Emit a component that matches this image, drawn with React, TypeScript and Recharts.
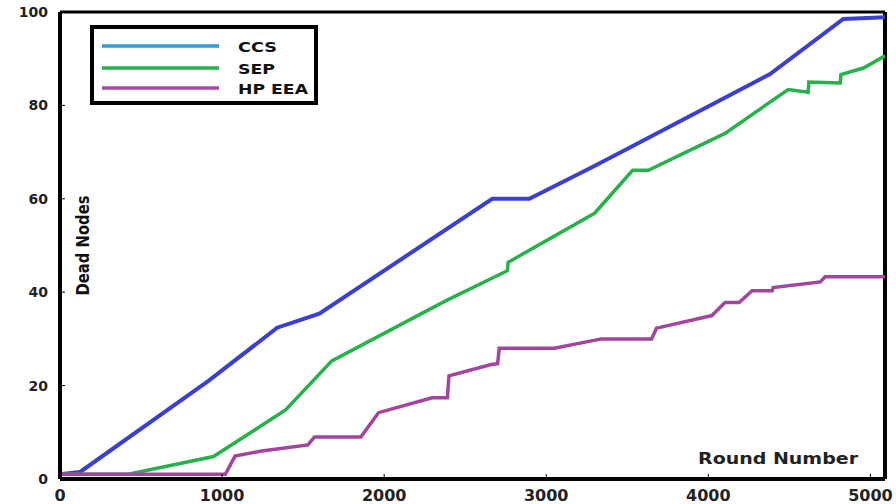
import { LineChart, Line, XAxis, YAxis, Legend, Label, ReferenceLine } from 'recharts';

const ccsRounds = [0, 124, 916, 1340, 1600, 2667, 2896, 3267, 3484, 4381, 4833, 5090];
const ccsDead = [1, 1.5, 21, 32.4, 35.4, 60, 60, 66.5, 70.4, 86.7, 98.5, 98.9];

const sepRounds = [0, 421, 947, 1392, 1677, 2382, 2760, 2765, 3298, 3533, 3630, 4103, 4493, 4616, 4620, 4814, 4818, 4957, 5090];
const sepDead = [1, 1, 4.8, 14.8, 25.3, 38.2, 44.6, 46.4, 56.9, 66.1, 66.1, 74, 83.4, 82.8, 85, 84.8, 86.6, 88, 90.6];

const hpRounds = [0, 1020, 1080, 1244, 1530, 1570, 1856, 1965, 2296, 2390, 2400, 2660, 2700, 2710, 3050, 3340, 3650, 3680, 4022, 4103, 4190, 4270, 4394, 4400, 4691, 4720, 5090];
const hpDead = [1, 1, 4.9, 6, 7.3, 9, 9, 14.2, 17.4, 17.4, 22.1, 24.5, 24.7, 28, 28, 30, 30, 32.3, 35, 37.8, 37.8, 40.3, 40.3, 41, 42.2, 43.3, 43.3];

const xTicks = [0, 1000, 2000, 3000, 4000, 5000];
const yTicks = [0, 20, 40, 60, 80, 100];

const toPoints = (rounds: number[], dead: number[]) =>
  rounds.map((round, i) => ({ round, dead: dead[i] }));

const series = [
  { name: 'CCS', data: toPoints(ccsRounds, ccsDead), color: '#3b3fd0', legendColor: '#2d9be0', width: 4 },
  { name: 'SEP', data: toPoints(sepRounds, sepDead), color: '#26b14a', legendColor: '#25b04a', width: 3.5 },
  { name: 'HP EEA', data: toPoints(hpRounds, hpDead), color: '#a3449e', legendColor: '#a64aa3', width: 3.5 },
];

const legendRows = [21, 43, 63];
const legendTextWidth: Record<string, number> = { CCS: 39, SEP: 37, 'HP EEA': 70 };

function LegendBox({ payload }: any) {
  // keep the series order, not the alphabetical one
  const items = [...(payload || [])].sort(
    (a: any, b: any) =>
      series.findIndex((s) => s.name === a.value) - series.findIndex((s) => s.name === b.value)
  );
  return (
    <svg width={228} height={80} style={{ display: 'block' }}>
      <rect x={2} y={2} width={224} height={76} fill="#fff" stroke="#000" strokeWidth={4} />
      {items.map((item: any, i: number) => {
        const s = series.find((d) => d.name === item.value);
        const y = legendRows[i];
        return (
          <g key={item.value}>
            <line x1={12} x2={129} y1={y} y2={y} stroke={s ? s.legendColor : item.color} strokeWidth={3.5} />
            <text
              x={148}
              y={y + 5.5}
              fontFamily="DejaVu Sans"
              fontWeight="bold"
              fontSize={14}
              fill="#111"
              textLength={legendTextWidth[item.value]}
              lengthAdjust="spacingAndGlyphs"
            >
              {item.value}
            </text>
          </g>
        );
      })}
    </svg>
  );
}

const tickStyle = { fontFamily: 'DejaVu Sans', fontWeight: 'bold', fill: '#222' };

export default function App() {
  return (
    <div style={{ position: 'absolute', left: 0, top: 0, background: '#fff' }}>
      <LineChart width={896} height={504} margin={{ top: 12, right: 11, left: 0, bottom: 0 }}>
        <XAxis
          type="number"
          dataKey="round"
          domain={[0, 5090]}
          ticks={xTicks}
          height={25}
          tickSize={-5}
          tickMargin={16}
          tick={{ ...tickStyle, fontSize: 16 }}
          axisLine={{ stroke: '#000', strokeWidth: 4 }}
          tickLine={{ stroke: '#000' }}
        >
          <Label
            content={({ viewBox }: any) => (
              <text
                x={viewBox.x + viewBox.width - 27}
                y={viewBox.y - 15}
                textAnchor="end"
                fontFamily="DejaVu Sans"
                fontWeight="bold"
                fontSize={16}
                fill="#222"
                textLength={160}
                lengthAdjust="spacingAndGlyphs"
              >
                Round Number
              </text>
            )}
          />
        </XAxis>
        <YAxis
          type="number"
          domain={[0, 100]}
          ticks={yTicks}
          width={60}
          tickSize={-5}
          tickMargin={17}
          tick={{ ...tickStyle, fontSize: 14 }}
          axisLine={{ stroke: '#000', strokeWidth: 4 }}
          tickLine={{ stroke: '#000' }}
        >
          <Label
            content={({ viewBox }: any) => {
              const cx = viewBox.x + viewBox.width + 29;
              const cy = viewBox.y + viewBox.height / 2;
              return (
                <text
                  x={cx}
                  y={cy}
                  transform={`rotate(-90 ${cx} ${cy})`}
                  textAnchor="middle"
                  fontFamily="DejaVu Sans Condensed, DejaVu Sans"
                  fontWeight="bold"
                  fontSize={18}
                  fill="#111"
                  textLength={100}
                  lengthAdjust="spacingAndGlyphs"
                >
                  Dead Nodes
                </text>
              );
            }}
          />
        </YAxis>
        <ReferenceLine y={100} stroke="#000" strokeWidth={3} />
        <ReferenceLine x={5090} stroke="#000" strokeWidth={4} />
        {series.map((s) => (
          <Line
            key={s.name}
            name={s.name}
            data={s.data}
            dataKey="dead"
            type="linear"
            stroke={s.color}
            strokeWidth={s.width}
            dot={false}
            isAnimationActive={false}
          />
        ))}
        <Legend
          layout="horizontal"
          verticalAlign="middle"
          align="center"
          content={<LegendBox />}
          wrapperStyle={{ left: 90, top: 25, width: 228, height: 80 }}
        />
      </LineChart>
    </div>
  );
}
